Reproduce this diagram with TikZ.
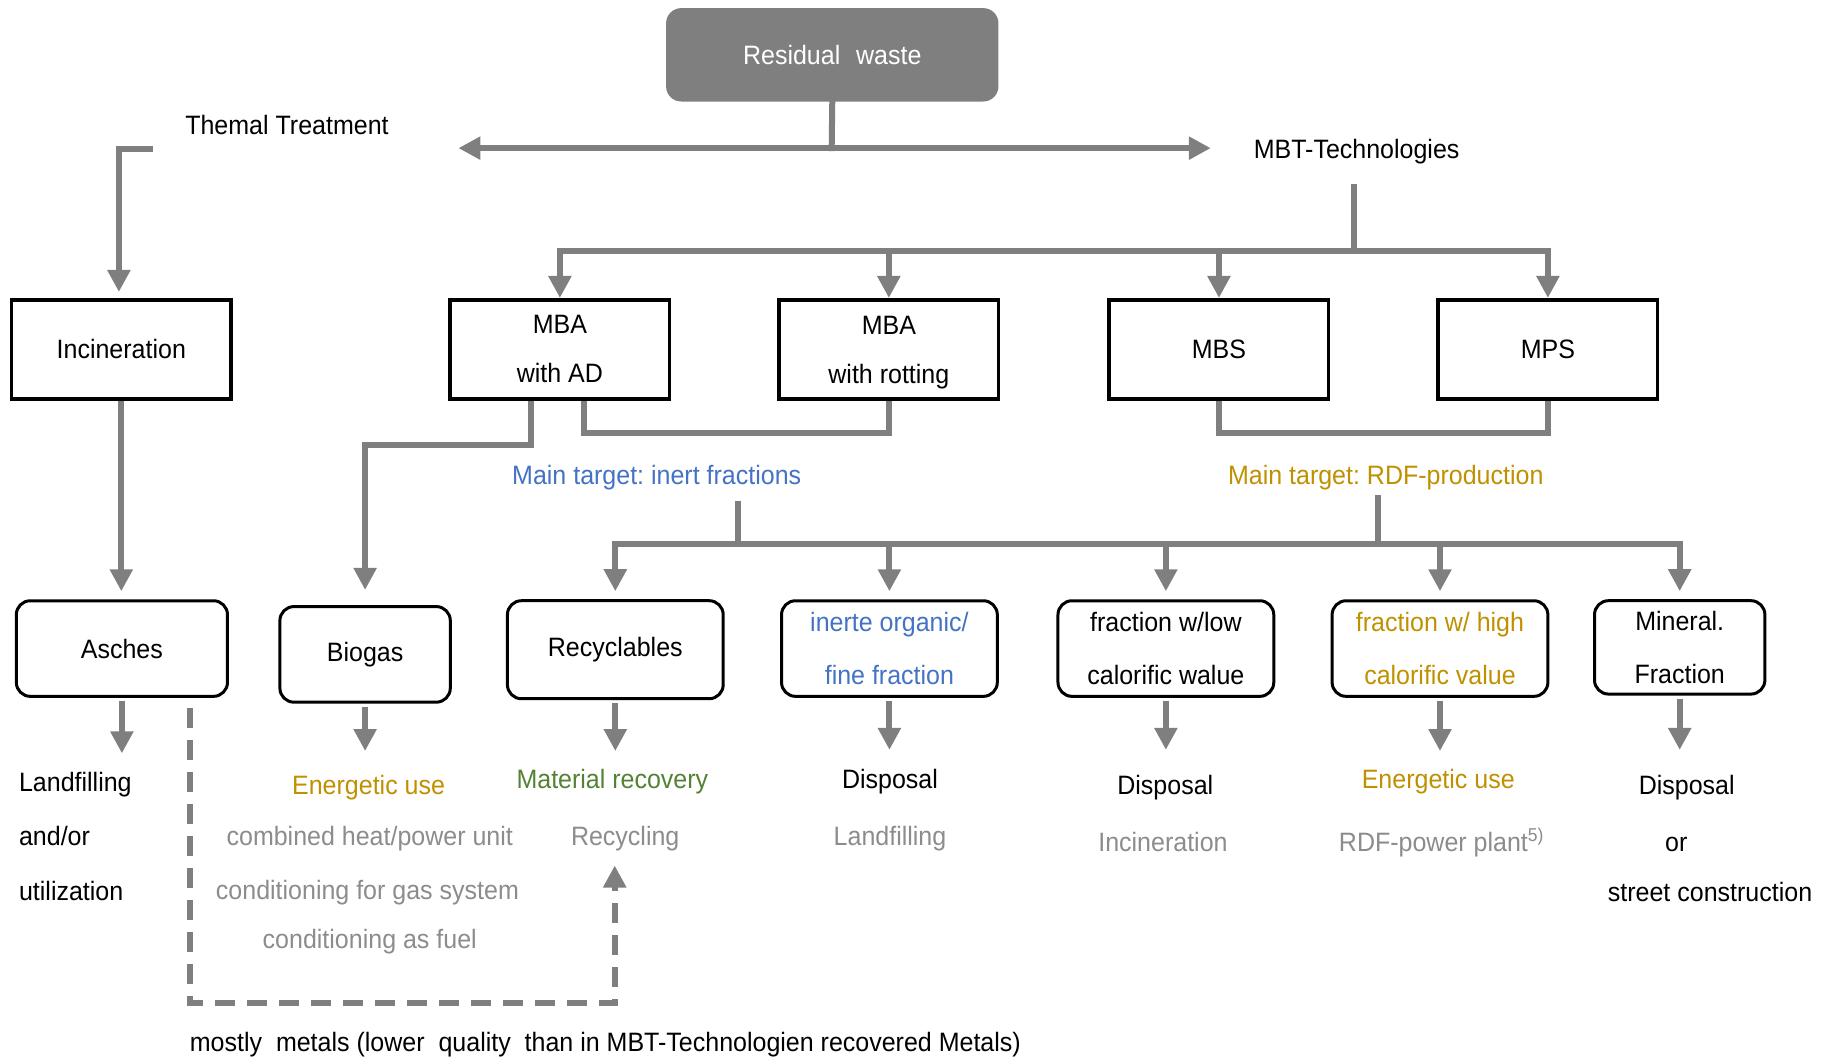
\documentclass[tikz,border=0pt]{standalone}
\usepackage{fontspec}
\setmainfont{Liberation Sans}[FakeStretch=0.94]
\usetikzlibrary{arrows.meta,calc}
\definecolor{lgray}{HTML}{7F7F7F}
\definecolor{tblue}{HTML}{4472C4}
\definecolor{tgold}{HTML}{BF9000}
\definecolor{tgreen}{HTML}{548235}
\definecolor{tgray}{HTML}{8C8C8C}
\begin{document}
\frenchspacing
\begin{tikzpicture}[x=0.58325pt,y=-0.58325pt,
  every node/.style={font=\fontsize{13.3}{15}\selectfont, inner sep=0pt},
  tip/.tip={Triangle[width=11pt,length=11pt]},
  conn/.style={draw=lgray, line width=3pt, line cap=rect},
  arr/.style={conn, -tip},
  txt/.style={anchor=base, yshift=-4.8pt},
  txtw/.style={anchor=base west, yshift=-4.8pt},
  sqbox/.style={draw=black, line width=1.8pt, minimum width=109.7pt, minimum height=49.6pt, align=center, font=\fontsize{13.3}{24.5}\selectfont},
  rbox/.style={draw=black, line width=1.5pt, rounded corners=7pt, minimum height=47.8pt, align=center, font=\fontsize{13.3}{26.8}\selectfont},
  dsh/.style={draw=lgray, line width=3pt, line cap=butt, dash pattern=on 10pt off 6pt, -tip}
]
\useasboundingbox (0,0) rectangle (1568,907);

% top
\node[fill=lgray, rounded corners=7.6pt, minimum width=166.2pt, minimum height=46.7pt, text=white] (rw) at (713.5,47) {Residual\,\, waste};
\node[txt] (thermal) at (246,107) {Themal Treatment};
\node[txt] (mbt) at (1163,128) {MBT-Technologies};

% upper row boxes
\node[sqbox] (inc) at (104,299.5) {Incineration};
\node[sqbox] (mbaad) at (480,299.5) {MBA\\with AD};
\node[sqbox] (mbarot) at (762,299.5) {MBA\\\smash{with rotting}};
\node[sqbox] (mbs) at (1045,299.5) {MBS};
\node[sqbox] (mps) at (1327,299.5) {MPS};

% targets
\node[txt, text=tblue] (tgt1) at (563,407) {Main target: inert fractions};
\node[txt, text=tgold] (tgt2) at (1188,407) {Main target: RDF-production};

% lower row boxes
\node[rbox, minimum width=105.6pt] (asches) at (104.5,556) {Asches};
\node[rbox, minimum width=85.2pt] (biogas) at (313,561) {Biogas};
\node[rbox, minimum width=107.9pt, minimum height=49pt] (recyc) at (527.5,557) {Recyclables};
\node[rbox, minimum width=107.9pt, text=tblue] (inerte) at (762.5,556) {inerte organic/\\fine fraction};
\node[rbox, minimum width=107.9pt] (low) at (999.5,556) {fraction w/low\\calorific walue};
\node[rbox, minimum width=107.9pt, text=tgold] (high) at (1234.5,556) {fraction w/ high\\calorific value};
\node[rbox, minimum width=85.2pt, minimum height=46.7pt] (mineral) at (1440,555) {Mineral.\\Fraction};

% bottom texts
\node[txtw] (l1) at (16,670) {Landfilling};
\node[txtw] (l2) at (16,717) {and/or};
\node[txtw] (l3) at (16,764) {utilization};
\node[txt, text=tgold] (b1) at (316,673) {Energetic use};
\node[txt, text=tgray] (b2) at (317,717) {combined heat/power unit};
\node[txt, text=tgray] (b3) at (315,763) {conditioning for gas system};
\node[txt, text=tgray] (b4) at (317,805) {conditioning as fuel};
\node[txt, text=tgreen] (r1) at (525,668) {Material recovery};
\node[txt, text=tgray] (r2) at (536,717) {Recycling};
\node[txt] (i1) at (763,668) {Disposal};
\node[txt, text=tgray] (i2) at (763,717) {Landfilling};
\node[txt] (o1) at (999,673) {Disposal};
\node[txt, text=tgray] (o2) at (997,722) {Incineration};
\node[txt, text=tgold] (h1) at (1233,668) {Energetic use};
\node[txt, text=tgray] (h2) at (1236,722) {RDF-power plant\textsuperscript{5)}};
\node[txt] (m1) at (1446,673) {Disposal};
\node[txt] (m2) at (1437,722) {or};
\node[txt] (m3) at (1466,765) {street construction};
\node[txt] (note) at (519,893) {mostly\ \ metals (lower\ \ quality\ \ than in MBT-Technologien recovered Metals)};

% connectors top
\coordinate (j0) at (713,127);
\coordinate (tl) at (393,127);
\coordinate (tr) at (1038,127);
\draw[conn] (rw.south) -- (j0);
\draw[conn, tip-tip, line cap=butt] (tl) -- (tr);

\coordinate (ts) at (131,128);
\draw[arr, line cap=butt, shorten >=3pt] (ts) -| ([xshift=-1.2pt]inc.north);

\coordinate (ms) at (1161,160);
\coordinate (mb) at (1161,215);
\draw[conn] (ms) -- (mb);
\draw[conn] (mb -| mbaad) -- (mb -| mps);
\foreach \n in {mbaad,mbarot,mbs,mps}
  \draw[arr] (mb -| \n.north) -- (\n.north);

% brackets below upper boxes
\draw[conn, line cap=butt] ([xshift=12.2pt]mbaad.south) -- ++(0,28) -| (mbarot.south);
\draw[conn, line cap=butt] (mbs.south) -- ++(0,28) -| (mps.south);
\draw[arr, line cap=butt, shorten >=7.6pt] ([xshift=-14.6pt]mbaad.south) -- ++(0,38) -| (biogas.north);

% targets to lower row
\coordinate (t1s) at (633,432);
\coordinate (t2s) at (1181,427);
\coordinate (lb) at (633,466);
\draw[conn] (t1s) -- (t1s |- lb);
\draw[conn] (t2s) -- (t2s |- lb);
\draw[conn] (lb -| recyc) -- (lb -| mineral);
\foreach \n in {recyc,inerte,low,high,mineral}
  \draw[arr, shorten >=4pt] (lb -| \n.north) -- (\n.north);

\draw[arr, line cap=butt, shorten >=4pt] (inc.south) -- (inc.south |- asches.north);

% lower arrows
\draw[arr, line cap=butt] ([yshift=-1.5pt]asches.south) -- ++(0,45);
\draw[arr, line cap=butt] ([yshift=-1.5pt]biogas.south) -- ++(0,38);
\draw[arr, line cap=butt] ([yshift=-1.5pt]recyc.south) -- ++(0,41);
\draw[arr, line cap=butt] ([yshift=-1.5pt]inerte.south) -- ++(0,42);
\draw[arr, line cap=butt] ([yshift=-1.5pt]low.south) -- ++(0,42);
\draw[arr, line cap=butt] ([yshift=-1.5pt]high.south) -- ++(0,43);
\draw[arr, line cap=butt] ([yshift=-1.5pt]mineral.south) -- ++(0,44);

% dashed metals path
\coordinate (d0) at (163,607);
\coordinate (dc) at (527,860);
\coordinate (d1) at (527,742);
\draw[dsh] (d0) |- (dc) -- (d1);
\end{tikzpicture}
\end{document}
